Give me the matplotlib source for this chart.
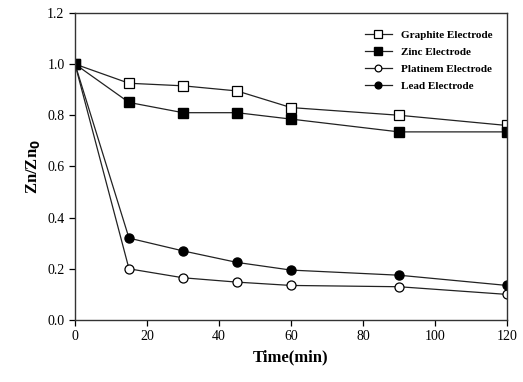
import matplotlib
matplotlib.use('Agg')
import matplotlib.pyplot as plt

plt.rcParams['font.family'] = ['Liberation Serif', 'DejaVu Serif']

time = [0, 15, 30, 45, 60, 90, 120]
graphite = [1.0, 0.925, 0.915, 0.895, 0.83, 0.80, 0.76]
zinc = [1.0, 0.85, 0.81, 0.81, 0.785, 0.735, 0.735]
platinum = [1.0, 0.20, 0.165, 0.148, 0.135, 0.13, 0.10]
lead = [1.0, 0.32, 0.27, 0.225, 0.195, 0.175, 0.135]

fig = plt.figure(figsize=(5.23, 3.82), dpi=100)
ax = fig.add_axes([0.1434, 0.1623, 0.826, 0.804])

lw = 0.9
ax.plot(time, graphite, color='#222222', lw=lw, marker='s', ms=7, mfc='white', mec='black', mew=0.9, label='Graphite Electrode')
ax.plot(time, zinc, color='#222222', lw=lw, marker='s', ms=7, mfc='black', mec='black', label='Zinc Electrode')
ax.plot(time, platinum, color='#222222', lw=lw, marker='o', ms=6.5, mfc='white', mec='black', mew=0.9, label='Platinem Electrode')
ax.plot(time, lead, color='#222222', lw=lw, marker='o', ms=6.5, mfc='black', mec='black', label='Lead Electrode')

ax.set_xlim(0, 120)
ax.set_ylim(0, 1.2)
ax.set_xticks([0, 20, 40, 60, 80, 100, 120])
ax.set_yticks([0.0, 0.2, 0.4, 0.6, 0.8, 1.0, 1.2])
ax.set_yticklabels(['0.0', '0.2', '0.4', '0.6', '0.8', '1.0', '1.2'])
ax.tick_params(direction='out', length=4, width=0.9, labelsize=10)
for s in ax.spines.values():
    s.set_linewidth(1.0)
    s.set_color('#333333')

ax.set_xlabel('Time(min)', fontsize=12, fontweight='bold')
ax.set_ylabel('Zn/Zn$_\\mathbf{0}$', fontsize=12, fontweight='bold')

leg = ax.legend(loc='upper right', frameon=False, prop={'size': 8, 'weight': 'bold'},
                markerscale=0.75, handlelength=2.5, labelspacing=0.65, bbox_to_anchor=(0.99, 0.975))

fig.savefig('out.png', dpi=100)
